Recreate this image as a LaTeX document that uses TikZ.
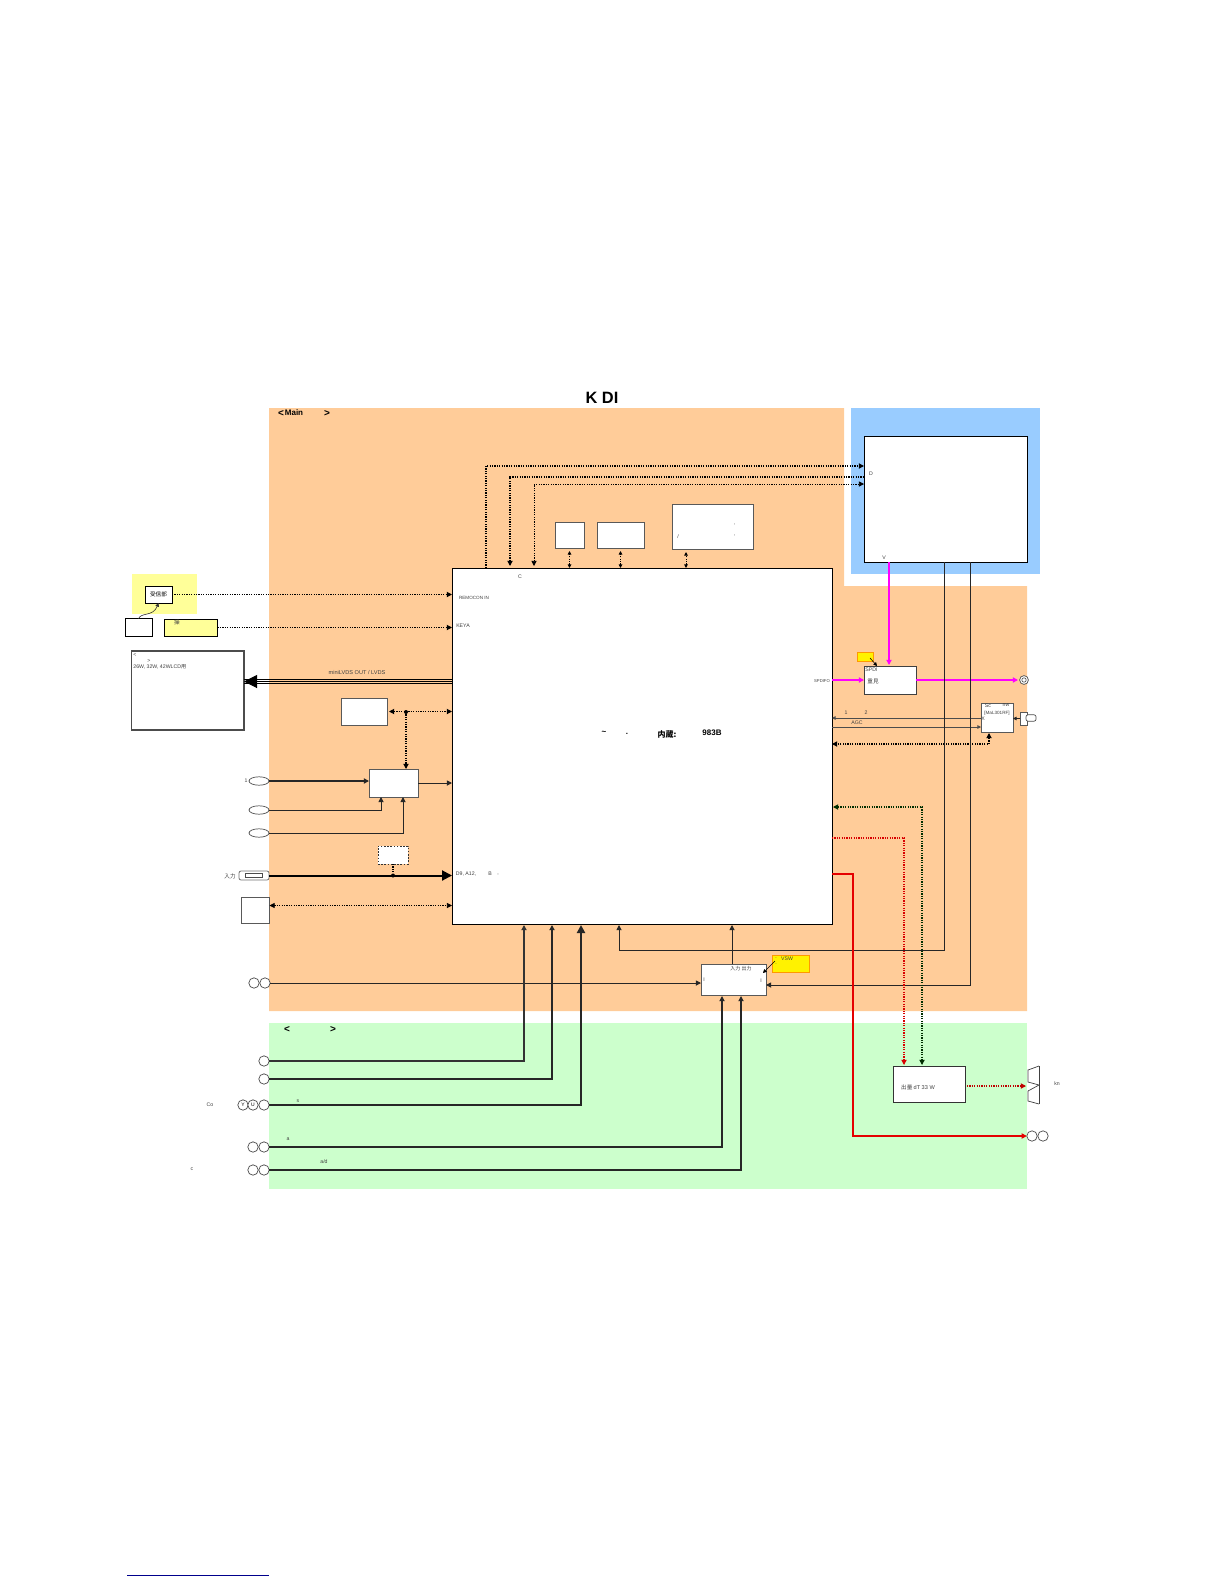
\documentclass[tikz,border=0pt]{standalone}
\usepackage{xcolor}
\usepackage{fontspec}
\setmainfont{Liberation Sans}
\setsansfont{Liberation Sans}
\newfontfamily\cjk{Noto Sans CJK JP}
\usetikzlibrary{arrows.meta, shapes.geometric, positioning}

\definecolor{mainorange}{HTML}{FFCC99}
\definecolor{subgreen}{HTML}{CCFFCC}
\definecolor{tunerblue}{HTML}{99CCFF}
\definecolor{paleyellow}{HTML}{FFFF99}
\definecolor{hotpink}{HTML}{FF00FF}
\definecolor{noteorange}{HTML}{FF9900}

\tikzset{
    block/.style={draw=black!65, fill=white, line width=0.5pt, inner sep=0pt, outer sep=0pt},
    heavyblock/.style={draw=black, fill=white, line width=0.5pt, inner sep=0pt, outer sep=0pt},
    note/.style={draw=noteorange, fill=yellow, line width=0.5pt, inner sep=0pt, outer sep=0pt},
    jack/.style={draw=black!70, fill=white, circle, line width=0.35pt, minimum size=5.2pt, inner sep=0pt, outer sep=0pt, font=\fontsize{2.5}{3}\selectfont},
    oval/.style={draw=black!70, fill=white, ellipse, line width=0.35pt, minimum width=10pt, minimum height=4.2pt, inner sep=0pt, outer sep=0pt},
    lbl/.style={font=\fontsize{2.6}{3}\selectfont, text=black!75, inner sep=0pt},
    lblcjk/.style={font=\fontsize{2.8}{3.2}\selectfont\cjk, text=black!75, inner sep=0pt},
    head/.style={font=\fontsize{5}{6}\selectfont\bfseries, inner sep=0pt},
    wire/.style={draw=black!85, line width=0.5pt},
    fatwire/.style={draw=black!85, line width=0.75pt},
    dotwire/.style={draw=black, line width=0.55pt, dash pattern=on 0.6pt off 0.6pt},
    >={Triangle[length=2.6pt,width=2.6pt]},
    tinytip/.style={-{Triangle[length=1.8pt,width=1.8pt]}},
    tinyboth/.style={{Triangle[length=1.8pt,width=1.8pt]}-{Triangle[length=1.8pt,width=1.8pt]}}
}

\begin{document}
\begin{tikzpicture}[x=0.5pt, y=-0.5pt]
\useasboundingbox (0,0) rectangle (1224,1584);

% Panels
\fill[mainorange] (269,408) -- (844,408) -- (844,586) -- (1027,586) -- (1027,1011) -- (269,1011) -- cycle;
\fill[tunerblue] (851,408) rectangle (1040,574);
\fill[subgreen] (269,1023) rectangle (1027,1189);
\fill[paleyellow] (132,574) rectangle (197,614);
\draw[blue!55!black, line width=0.5pt] (127,1575) -- (269,1575);

% Title and panel headings
\node[font=\fontsize{8.2}{10}\selectfont\bfseries, inner sep=0pt] (title) at (602,398) {K DI};
\node[head] (mainOpen) at (281,413) {<};
\node[font=\fontsize{4}{5}\selectfont\bfseries, inner sep=0pt] (mainName) at (294,413) {Main};
\node[head] (mainClose) at (327,413) {>};
\node[head] (subOpen) at (287,1029) {<};
\node[head] (subClose) at (333,1029) {>};

% Main chip
\node[heavyblock, minimum width=190pt, minimum height=178pt] (chip) at (642,746) {};
\node[font=\fontsize{4}{5}\selectfont\bfseries, inner sep=0pt] (chipTilde) at (604,733) {\textasciitilde};
\node[font=\fontsize{4}{5}\selectfont\bfseries, inner sep=0pt] (chipDot) at (627,734) {.};
\node[font=\fontsize{4}{5}\selectfont\bfseries\cjk, inner sep=0pt] (chipBuilt) at (667,734) {内蔵:};
\node[font=\fontsize{4}{5}\selectfont\bfseries, inner sep=0pt] (chipName) at (712,733) {983B};
\node[lbl] (chipC) at (520,577) {C};
\node[lbl, font=\fontsize{2.3}{3}\selectfont] (chipRemocon) at (474,598) {REMOCON IN};
\node[lbl] (chipKey) at (463,626) {KEYA};
\node[lbl, font=\fontsize{2.1}{3}\selectfont] (chipSpdif) at (822,681) {SPDIFO};
\node[lbl] (chipD) at (466,874) {D9, A12,};
\node[lbl] (chipB) at (490,874) {B};
\node[lbl] (chipComma) at (498,875) {,};

% Left side blocks
\node[draw=black, fill=white, line width=0.5pt, inner sep=0pt, outer sep=0pt, minimum width=13.5pt, minimum height=8.5pt, font=\fontsize{2.8}{3.2}\selectfont\cjk] (receiver) at (158.5,594.5) {受信部};
\node[block, draw=black, minimum width=13.5pt, minimum height=8.75pt] (remote) at (138.5,627.5) {};
\node[block, draw=black, fill=paleyellow, minimum width=26.5pt, minimum height=8.5pt] (keyboard) at (191,627.5) {};
\node[lblcjk] (keyboardText) at (177,622.5) {操};
\node[draw=black!70, fill=white, line width=0.9pt, inner sep=0pt, outer sep=0pt, minimum width=56.25pt, minimum height=39.5pt] (lcd) at (187.75,690.5) {};
\node[lbl] (lcdOpen) at (135,655) {<};
\node[lbl] (lcdClose) at (149,661) {>};
\node[lbl, anchor=west] (lcdText) at (133,667) {26W, 32W, 42WLCD{\cjk 用}};

\node[block, minimum width=23pt, minimum height=13.5pt] (flash) at (364,711.5) {};
\node[block, minimum width=24.5pt, minimum height=14pt] (switchA) at (393.5,783) {};
\node[block, draw=black!80, line width=0.4pt, dash pattern=on 0.8pt off 0.8pt, minimum width=15pt, minimum height=9pt] (edid) at (393,855) {};
\node[block, minimum width=14.25pt, minimum height=13pt] (service) at (255.25,910) {};

% Left side inputs
\node[oval] (ovalA) at (259,781) {};
\node[oval] (ovalB) at (259,810) {};
\node[oval] (ovalC) at (259,833) {};
\node[lbl] (ovalText) at (246,781) {1};
\node[draw=black!55, fill=white, rounded corners=1pt, line width=0.4pt, inner sep=0pt, outer sep=0pt, minimum width=15pt, minimum height=4.5pt] (vga) at (254,875.5) {};
\node[draw=black!70, fill=white, line width=0.3pt, inner sep=0pt, outer sep=0pt, minimum width=8.5pt, minimum height=2pt] (vgaPins) at (254,875.5) {};
\node[lblcjk] (vgaText) at (230,876) {入力};
\node[jack] (jackPcL) at (254,983) {};
\node[jack] (jackPcR) at (265,983) {};
\node[jack] (jackS) at (264,1061) {};
\node[jack] (jackV) at (264,1079) {};
\node[jack] (jackY) at (243,1105) {Y};
\node[jack] (jackU) at (253,1105) {U};
\node[jack] (jackW) at (264,1105) {};
\node[jack] (jackAL) at (253,1147) {};
\node[jack] (jackAR) at (264,1147) {};
\node[jack] (jackCL) at (253,1170) {};
\node[jack] (jackCR) at (264,1170) {};
\node[lbl] (compText) at (210,1105) {Co};
\node[lbl] (compMark) at (298,1101) {s};
\node[lbl] (audioMark) at (288,1139) {a};
\node[lbl] (capText) at (192,1169) {c};
\node[lbl] (capMark) at (324,1162) {a/d};

% Top blocks
\node[block, minimum width=14.5pt, minimum height=13pt] (memA) at (569.5,535) {};
\node[block, minimum width=23.5pt, minimum height=13pt] (memB) at (620.5,535) {};
\node[block, minimum width=40.5pt, minimum height=22.5pt] (memC) at (712.5,526.5) {};
\node[lbl] (memSlash) at (678,537) {/};
\node[lbl] (memMarkA) at (734.7,526) {'};
\node[lbl] (memMarkB) at (734.7,537) {'};

% Tuner module
\node[heavyblock, minimum width=81.75pt, minimum height=63pt] (module) at (945.75,499) {};
\node[lbl] (moduleD) at (871,474) {D};
\node[lbl] (moduleV) at (884,558) {V};

% Right side blocks
\node[block, draw=black!75, minimum width=26pt, minimum height=14pt] (spdi) at (890,680) {};
\node[lbl, anchor=west] (spdiName) at (865,669.5) {SPDI};
\node[lblcjk] (spdiText) at (873,681) {重見};
\node[note, minimum width=8pt, minimum height=4.5pt] (spdiNote) at (865,656.5) {};
\node[jack, minimum size=4.4pt] (optOut) at (1024,680) {};
\node[draw=black!70, line width=0.3pt, circle, minimum size=2.2pt, inner sep=0pt] (optCore) at (1024,680) {};
\node[block, minimum width=16pt, minimum height=14.5pt] (tuner) at (997,717.5) {};
\node[lbl] (tunerSc) at (988,705.5) {Sc};
\node[lbl] (tunerNw) at (1006,705.5) {nw};
\node[lbl, font=\fontsize{2.3}{3}\selectfont] (tunerName) at (997,713) {[MaL301RF]};
\node[lbl] (tunerX) at (983,719) {X};
\node[block, minimum width=3.5pt, minimum height=6.5pt] (antenna) at (1023.5,718.5) {};
\node[draw=black!70, fill=white, rounded corners=1pt, line width=0.35pt, inner sep=0pt, outer sep=0pt, minimum width=5pt, minimum height=3.2pt] (antennaPlug) at (1031,718) {};
\node[lbl] (ifOne) at (846,713) {1};
\node[lbl] (ifTwo) at (866,713) {2};
\node[lbl] (agcText) at (857,723) {AGC};

% Bottom blocks
\node[block, minimum width=32.5pt, minimum height=15.5pt] (selector) at (733.5,979.5) {};
\node[lblcjk, font=\fontsize{2.5}{3}\selectfont\cjk] (selectorText) at (741,969) {入力 出力};
\node[lbl] (selectorL) at (704,980) {I};
\node[lbl] (selectorR) at (761,981) {I};
\node[note, minimum width=18.5pt, minimum height=8.5pt] (selectorNote) at (790.5,963.5) {};
\node[lbl] (noteText) at (787,958.5) {VSW};
\node[lbl] (noteDotA) at (776,958.5) {.};
\node[lbl] (noteDotB) at (776,964.5) {.};
\node[block, draw=black!80, minimum width=36pt, minimum height=18pt] (amp) at (929,1084) {};
\node[lblcjk] (ampText) at (918,1087) {出量 \fontspec{Liberation Sans}dT 33 W};
\coordinate (spkTop) at (1039,1066);
\coordinate (spkMid) at (1039,1085);
\coordinate (spkBot) at (1039,1104);
\draw[black!75, line width=0.35pt] (spkTop) -- (1028,1070) -- (1028,1082) -- (spkMid) -- (1028,1091) -- (1028,1101) -- (spkBot);
\draw[black!75, line width=0.35pt] (spkTop) -- (spkBot);
\node[lbl] (spkText) at (1057,1084) {kn};
\node[jack] (phoneL) at (1032,1136) {};
\node[jack] (phoneR) at (1043,1136) {};

% Control links to the chip
\draw[dotwire, ->] (receiver.east) -- (chip.west |- receiver.east);
\draw[dotwire, ->] (keyboard.east) -- (chip.west |- keyboard.east);
\draw[black!80, line width=0.3pt, tinytip] (remote.north) .. controls (141,612) and (153,617) .. (receiver.south);
\draw[dotwire, <->] (flash.east) ++(2,0) -- (chip.west |- flash.east);
\coordinate (flashDot) at (406,712);
\fill (flashDot) circle (1pt);
\draw[dotwire, ->] (flashDot) -- (flashDot |- switchA.north);
\draw[dotwire, <->, line width=0.45pt] (service.east |- 0,905.5) -- (chip.west |- 0,905.5);

% LVDS to the panel
\draw[line width=0.5pt] (chip.west |- 0,679.5) -- (lcd.east |- 0,679.5);
\draw[line width=0.5pt] (chip.west |- 0,683.5) -- (lcd.east |- 0,683.5);
\draw[line width=0.5pt, -{Triangle[length=6.5pt,width=6.5pt]}] (chip.west |- 0,681.5) -- (lcd.east |- 0,681.5);
\node[lbl, font=\fontsize{2.8}{3.2}\selectfont] (lvdsText) at (357,672) {miniLVDS OUT / LVDS};

% Analog inputs of the switch
\draw[fatwire, ->] (ovalA.east) -- (switchA.west |- ovalA.east);
\draw[wire, ->] (ovalB.east) -| (381,797);
\draw[wire, ->] (ovalC.east) -| (403,797);
\draw[wire, ->] (switchA.east) -- (chip.west |- switchA.east);
\draw[line width=1pt, -{Triangle[length=5pt,width=5pt]}] (vga.east) -- (chip.west |- vga.east);
\coordinate (edidDot) at (393,875.5);
\fill (edidDot) circle (1pt);
\draw[dotwire] (edid.south) -- (edidDot);

% Top links between chip and module
\draw[dotwire, ->] (486,568) |- (module.west |- 0,466);
\draw[dotwire, <-] (510,566) |- (module.west |- 0,477);
\draw[dotwire, <->, line width=0.45pt] (534,566) |- (module.west |- 0,484);
\draw[dotwire, tinyboth, line width=0.45pt] (memA.south |- chip.north) -- (569.5,551);
\draw[dotwire, tinyboth, line width=0.45pt] (memB.south |- chip.north) -- (620.5,551);
\draw[dotwire, tinyboth, line width=0.45pt] (686,568) -- (686,552);

% Digital audio
\draw[hotpink, line width=0.8pt, ->] (889,562) -- (889,665);
\draw[hotpink, line width=0.8pt, ->] (chip.east |- spdi.west) -- (spdi.west);
\draw[hotpink, line width=0.7pt, ->] (spdi.east) -- (1018,680);
\draw[black, line width=0.3pt, tinytip] (870,658) -- (877,666);

% Tuner links
\draw[black!70, line width=0.4pt, tinytip] (981,718) -- (chip.east |- 0,718);
\draw[black!70, line width=0.4pt, tinytip] (chip.east |- 0,727) -- (981,727);
\draw[wire, tinytip] (antenna.west) -- (tuner.east |- antenna.west);
\draw[dotwire, <->] (989,733) |- (chip.east |- 0,744);

% Video lines from the module
\draw[wire, ->] (944,562) |- (619,950) -- (619,925);
\draw[wire, ->] (970,562) |- (selector.east |- 0,985);
\draw[wire, ->] (selector.north -| 732,0) -- (732,925);
\draw[black, line width=0.3pt, tinytip] (775,961) -- (763,973);

% Inputs from the sub panel
\draw[wire, ->] (jackPcR.east) -- (selector.west |- jackPcR.east);
\draw[fatwire, black!80, ->] (jackS.east) -| (524,925);
\draw[fatwire, ->] (jackV.east) -| (552,925);
\draw[line width=1.1pt, black!85, -{Triangle[length=4pt,width=4pt]}] (jackW.east) -| (581,925);
\draw[wire, line width=0.6pt, ->] (jackAR.east) -| (722,996);
\draw[wire, line width=0.6pt, ->] (jackCR.east) -| (741,996);

% Audio to the amplifier and the headphones
\draw[dotwire, black!70!green!60!black, <->] (833,807) -| (922,1065);
\draw[dotwire, red!85!black, ->] (832,838) -| (904,1065);
\draw[dotwire, red!75!black, ->] (967,1086) -- (1026,1086);
\draw[red!90!black, line width=1pt, ->] (chip.east |- 0,874) -| (853,1136) -- (phoneL.west);

\end{tikzpicture}
\end{document}
